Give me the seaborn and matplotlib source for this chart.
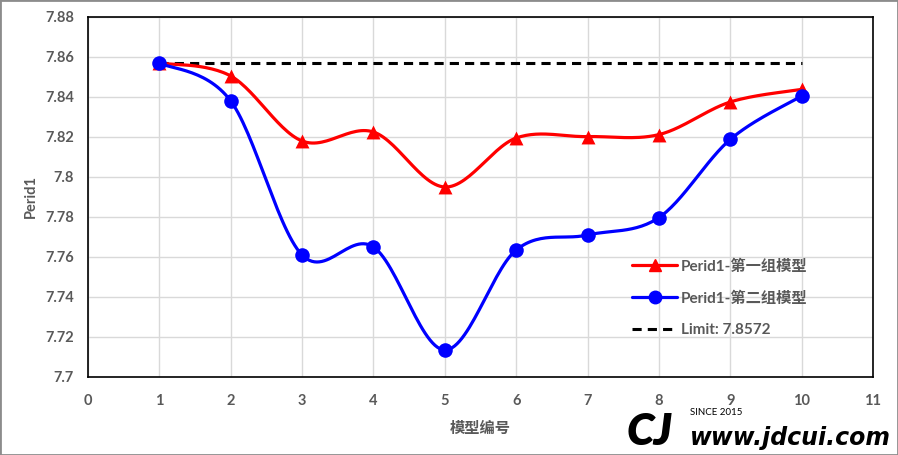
import numpy as np
import pandas as pd
import seaborn as sns
import matplotlib.pyplot as plt
from matplotlib.lines import Line2D
from matplotlib.patches import Rectangle

# chart data
model_no = [1, 2, 3, 4, 5, 6, 7, 8, 9, 10]
group1 = [7.857, 7.8505, 7.818, 7.8225, 7.795, 7.8195, 7.8202, 7.8212, 7.8375, 7.8438]
group2 = [7.857, 7.838, 7.761, 7.765, 7.7135, 7.7635, 7.771, 7.7797, 7.8188, 7.8405]
limit = 7.8572
series_names = ["Perid1-第一组模型", "Perid1-第二组模型"]
limit_name = "Limit: 7.8572"


def smooth(x, y, n=30):
    # Excel-style smoothed line: cubic Bezier with Catmull-Rom control points
    x = np.asarray(x, float)
    y = np.asarray(y, float)
    px = np.concatenate([[x[0]], x, [x[-1]]])
    py = np.concatenate([[y[0]], y, [y[-1]]])
    xs, ys = [], []
    t = np.linspace(0, 1, n)
    for i in range(1, len(px) - 2):
        p0 = np.array([px[i], py[i]])
        p3 = np.array([px[i + 1], py[i + 1]])
        p1 = p0 + (np.array([px[i + 1], py[i + 1]]) - np.array([px[i - 1], py[i - 1]])) / 6
        p2 = p3 - (np.array([px[i + 2], py[i + 2]]) - np.array([px[i], py[i]])) / 6
        b = ((1 - t) ** 3)[:, None] * p0 + (3 * (1 - t) ** 2 * t)[:, None] * p1 \
            + (3 * (1 - t) * t ** 2)[:, None] * p2 + (t ** 3)[:, None] * p3
        xs.extend(b[:, 0])
        ys.extend(b[:, 1])
    return np.array(xs), np.array(ys)


sns.set_style("white")
plt.rcParams['font.family'] = ['Lato', 'Noto Sans CJK SC', 'DejaVu Sans']
grey = "#595959"

fig = plt.figure(figsize=(8.98, 4.55), dpi=100)
ax = fig.add_axes([88 / 898, 1 - 377 / 455, (873 - 88) / 898, (377 - 17) / 455])

colors = ["#ff0000", "#0000ff"]
markers = ["^", "o"]
for vals, c, m in zip([group1, group2], colors, markers):
    sx, sy = smooth(model_no, vals)
    sns.lineplot(x=sx, y=sy, ax=ax, color=c, lw=2.3, sort=False, estimator=None, zorder=3)
    df = pd.DataFrame({"x": model_no, "y": vals})
    sns.scatterplot(data=df, x="x", y="y", ax=ax, color=c, marker=m,
                    s=110 if m == "o" else 100, edgecolor=c, linewidth=0, zorder=4)

ax.plot([model_no[0], model_no[-1]], [limit, limit], ls=(0, (3, 2)), color="black", lw=2.2, zorder=2)

ax.set_xlim(0, 11)
ax.set_ylim(7.7, 7.88)
ax.set_xticks(range(0, 12))
ax.set_yticks(np.round(np.arange(7.7, 7.8801, 0.02), 2))
ax.set_yticklabels(["7.7", "7.72", "7.74", "7.76", "7.78", "7.8", "7.82", "7.84", "7.86", "7.88"])
ax.grid(True, color="#d9d9d9", lw=1)
ax.set_axisbelow(True)
for s in ax.spines.values():
    s.set_color("black")
    s.set_linewidth(1.2)
    s.set_visible(True)
ax.tick_params(direction="in", length=5, width=1, color="black", labelcolor=grey,
               labelsize=10.5)
ax.tick_params(axis="x", pad=12)
ax.tick_params(axis="y", pad=10)
for lab in ax.get_xticklabels() + ax.get_yticklabels():
    lab.set_fontweight("bold")
ax.set_xlabel("模型编号", color=grey, fontsize=11, fontweight="bold", labelpad=10)
ax.set_ylabel("Perid1", color=grey, fontsize=10.5, fontweight="bold", labelpad=5)

handles = [
    Line2D([], [], color=colors[0], marker="^", ms=9, lw=2.3),
    Line2D([], [], color=colors[1], marker="o", ms=9, lw=2.3),
    Line2D([], [], color="black", ls=(0, (3, 2)), lw=2.2),
]
leg = ax.legend(handles, series_names + [limit_name], loc="upper left",
                bbox_to_anchor=(0.675, 0.365), frameon=False, handlelength=3.0,
                labelspacing=1.15, handletextpad=0.2, prop={"weight": "bold", "size": 11})
for t in leg.get_texts():
    t.set_color(grey)

# watermark
fig.text(0.698, 0.022, "CJ", fontsize=32, fontweight="heavy", fontstyle="italic", color="black")
fig.text(0.768, 0.088, "SINCE 2015", fontsize=7, color="black")
fig.text(0.768, 0.022, "www.jdcui.com", fontsize=17, fontweight="bold", fontstyle="italic",
         color="black", family=["DejaVu Sans"])

fig.patches.append(Rectangle((0, 0), 1, 1, transform=fig.transFigure, fill=False,
                             edgecolor="#8c8c8c", lw=2))

fig.savefig("out.png", dpi=100)
